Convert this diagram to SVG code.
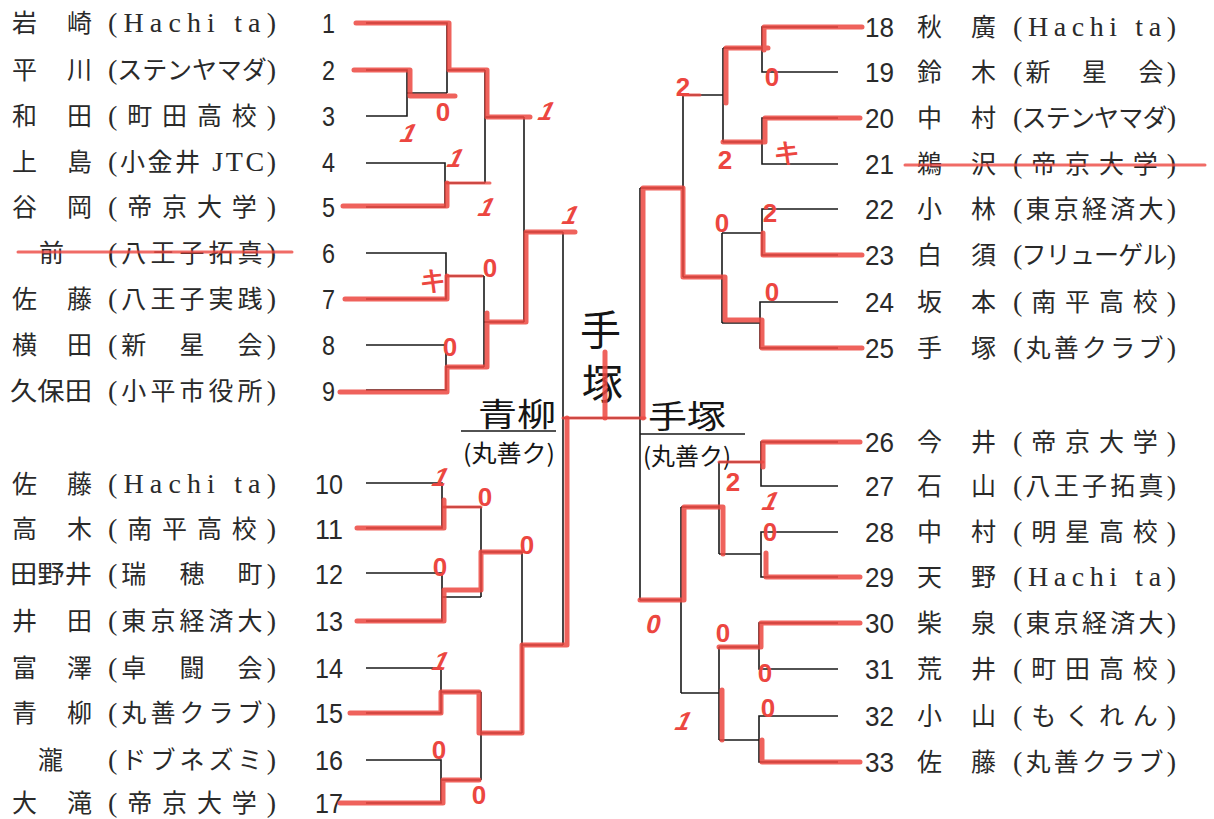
<svg xmlns="http://www.w3.org/2000/svg" width="1214" height="819" viewBox="0 0 1214 819">
<style>
.bg{fill:#ffffff}
.b{stroke:#1a1a1a;stroke-width:1.6;fill:none}
.r{stroke:#ec4640;stroke-width:5;fill:none;stroke-linecap:round;stroke-linejoin:round;opacity:.85}
.rt{stroke:#ec4640;stroke-width:3;fill:none;stroke-linecap:round;opacity:.8}
.n{font-family:"Noto Sans CJK JP","Noto Sans CJK SC",sans-serif;font-size:25px;fill:#2a2a2a}
.lat{font-family:"Liberation Serif",serif;font-size:28px}
.num{font-family:"Liberation Sans",Arial,sans-serif;font-size:28px;fill:#2a2a2a}
.hw{font-family:"Noto Sans CJK JP",sans-serif;fill:#151515}
.sc{font-family:"Liberation Sans",Arial,sans-serif;font-size:26px;font-weight:bold;fill:#ec4640;text-anchor:middle}
</style>
<rect class="bg" x="0" y="0" width="1214" height="819"/>

<!-- left entries -->
<g id="e1"><text class="num" x="322" y="33" textLength="13" lengthAdjust="spacingAndGlyphs">1</text><text class="n" x="12" y="32">岩</text><text class="n" x="67" y="32">崎</text><text class="n" x="108" y="32" textLength="168" lengthAdjust="spacing"><tspan class="lat">(Hachi ta)</tspan></text></g>
<g id="e2"><text class="num" x="322" y="80" textLength="13" lengthAdjust="spacingAndGlyphs">2</text><text class="n" x="12" y="79">平</text><text class="n" x="67" y="79">川</text><text class="n" x="108" y="79" textLength="168" lengthAdjust="spacing"><tspan class="lat">(</tspan>ステンヤマダ<tspan class="lat">)</tspan></text></g>
<g id="e3"><text class="num" x="322" y="126" textLength="13" lengthAdjust="spacingAndGlyphs">3</text><text class="n" x="12" y="125">和</text><text class="n" x="67" y="125">田</text><text class="n" x="108" y="125" textLength="168" lengthAdjust="spacing"><tspan class="lat">(</tspan>町田高校<tspan class="lat">)</tspan></text></g>
<g id="e4"><text class="num" x="322" y="172" textLength="13" lengthAdjust="spacingAndGlyphs">4</text><text class="n" x="12" y="171">上</text><text class="n" x="67" y="171">島</text><text class="n" x="108" y="171" textLength="168" lengthAdjust="spacing"><tspan class="lat">(</tspan>小金井<tspan class="lat"> JTC)</tspan></text></g>
<g id="e5"><text class="num" x="322" y="217" textLength="13" lengthAdjust="spacingAndGlyphs">5</text><text class="n" x="12" y="216">谷</text><text class="n" x="67" y="216">岡</text><text class="n" x="108" y="216" textLength="168" lengthAdjust="spacing"><tspan class="lat">(</tspan>帝京大学<tspan class="lat">)</tspan></text></g>
<g id="e6"><text class="num" x="322" y="263" textLength="13" lengthAdjust="spacingAndGlyphs">6</text><text class="n" x="39" y="262">前</text><text class="n" x="108" y="262" textLength="168" lengthAdjust="spacing"><tspan class="lat">(</tspan>八王子拓真<tspan class="lat">)</tspan></text></g>
<g id="e7"><text class="num" x="322" y="309" textLength="13" lengthAdjust="spacingAndGlyphs">7</text><text class="n" x="12" y="308">佐</text><text class="n" x="67" y="308">藤</text><text class="n" x="108" y="308" textLength="168" lengthAdjust="spacing"><tspan class="lat">(</tspan>八王子実践<tspan class="lat">)</tspan></text></g>
<g id="e8"><text class="num" x="322" y="355" textLength="13" lengthAdjust="spacingAndGlyphs">8</text><text class="n" x="12" y="354">横</text><text class="n" x="67" y="354">田</text><text class="n" x="108" y="354" textLength="168" lengthAdjust="spacing"><tspan class="lat">(</tspan>新　星　会<tspan class="lat">)</tspan></text></g>
<g id="e9"><text class="num" x="322" y="401" textLength="13" lengthAdjust="spacingAndGlyphs">9</text><text class="n" x="10" y="400" textLength="82" lengthAdjust="spacingAndGlyphs">久保田</text><text class="n" x="108" y="400" textLength="168" lengthAdjust="spacing"><tspan class="lat">(</tspan>小平市役所<tspan class="lat">)</tspan></text></g>
<g id="e10"><text class="num" x="315" y="494" textLength="28" lengthAdjust="spacingAndGlyphs">10</text><text class="n" x="12" y="493">佐</text><text class="n" x="67" y="493">藤</text><text class="n" x="108" y="493" textLength="168" lengthAdjust="spacing"><tspan class="lat">(Hachi ta)</tspan></text></g>
<g id="e11"><text class="num" x="315" y="539" textLength="28" lengthAdjust="spacingAndGlyphs">11</text><text class="n" x="12" y="538">高</text><text class="n" x="67" y="538">木</text><text class="n" x="108" y="538" textLength="168" lengthAdjust="spacing"><tspan class="lat">(</tspan>南平高校<tspan class="lat">)</tspan></text></g>
<g id="e12"><text class="num" x="315" y="584" textLength="28" lengthAdjust="spacingAndGlyphs">12</text><text class="n" x="10" y="583" textLength="82" lengthAdjust="spacingAndGlyphs">田野井</text><text class="n" x="108" y="583" textLength="168" lengthAdjust="spacing"><tspan class="lat">(</tspan>瑞　穂　町<tspan class="lat">)</tspan></text></g>
<g id="e13"><text class="num" x="315" y="631" textLength="28" lengthAdjust="spacingAndGlyphs">13</text><text class="n" x="12" y="630">井</text><text class="n" x="67" y="630">田</text><text class="n" x="108" y="630" textLength="168" lengthAdjust="spacing"><tspan class="lat">(</tspan>東京経済大<tspan class="lat">)</tspan></text></g>
<g id="e14"><text class="num" x="315" y="678" textLength="28" lengthAdjust="spacingAndGlyphs">14</text><text class="n" x="12" y="677">富</text><text class="n" x="67" y="677">澤</text><text class="n" x="108" y="677" textLength="168" lengthAdjust="spacing"><tspan class="lat">(</tspan>卓　闘　会<tspan class="lat">)</tspan></text></g>
<g id="e15"><text class="num" x="315" y="723" textLength="28" lengthAdjust="spacingAndGlyphs">15</text><text class="n" x="12" y="722">青</text><text class="n" x="67" y="722">柳</text><text class="n" x="108" y="722" textLength="168" lengthAdjust="spacing"><tspan class="lat">(</tspan>丸善クラブ<tspan class="lat">)</tspan></text></g>
<g id="e16"><text class="num" x="315" y="770" textLength="28" lengthAdjust="spacingAndGlyphs">16</text><text class="n" x="38" y="769">瀧</text><text class="n" x="108" y="769" textLength="168" lengthAdjust="spacing"><tspan class="lat">(</tspan>ドブネズミ<tspan class="lat">)</tspan></text></g>
<g id="e17"><text class="num" x="315" y="813" textLength="28" lengthAdjust="spacingAndGlyphs">17</text><text class="n" x="12" y="812">大</text><text class="n" x="67" y="812">滝</text><text class="n" x="108" y="812" textLength="168" lengthAdjust="spacing"><tspan class="lat">(</tspan>帝京大学<tspan class="lat">)</tspan></text></g>

<!-- right entries -->
<g id="e18"><text class="num" x="865" y="37" textLength="29" lengthAdjust="spacingAndGlyphs">18</text><text class="n" x="917" y="36">秋</text><text class="n" x="971" y="36">廣</text><text class="n" x="1013" y="36" textLength="163" lengthAdjust="spacing"><tspan class="lat">(Hachi ta)</tspan></text></g>
<g id="e19"><text class="num" x="865" y="82" textLength="29" lengthAdjust="spacingAndGlyphs">19</text><text class="n" x="917" y="81">鈴</text><text class="n" x="971" y="81">木</text><text class="n" x="1013" y="81" textLength="163" lengthAdjust="spacing"><tspan class="lat">(</tspan>新　星　会<tspan class="lat">)</tspan></text></g>
<g id="e20"><text class="num" x="865" y="128" textLength="29" lengthAdjust="spacingAndGlyphs">20</text><text class="n" x="917" y="127">中</text><text class="n" x="971" y="127">村</text><text class="n" x="1013" y="127" textLength="163" lengthAdjust="spacing"><tspan class="lat">(</tspan>ステンヤマダ<tspan class="lat">)</tspan></text></g>
<g id="e21"><text class="num" x="865" y="174" textLength="29" lengthAdjust="spacingAndGlyphs">21</text><text class="n" x="917" y="173">鵜</text><text class="n" x="971" y="173">沢</text><text class="n" x="1013" y="173" textLength="163" lengthAdjust="spacing"><tspan class="lat">(</tspan>帝京大学<tspan class="lat">)</tspan></text></g>
<g id="e22"><text class="num" x="865" y="219" textLength="29" lengthAdjust="spacingAndGlyphs">22</text><text class="n" x="917" y="218">小</text><text class="n" x="971" y="218">林</text><text class="n" x="1013" y="218" textLength="163" lengthAdjust="spacing"><tspan class="lat">(</tspan>東京経済大<tspan class="lat">)</tspan></text></g>
<g id="e23"><text class="num" x="865" y="265" textLength="29" lengthAdjust="spacingAndGlyphs">23</text><text class="n" x="917" y="264">白</text><text class="n" x="971" y="264">須</text><text class="n" x="1013" y="264" textLength="163" lengthAdjust="spacing"><tspan class="lat">(</tspan>フリューゲル<tspan class="lat">)</tspan></text></g>
<g id="e24"><text class="num" x="865" y="312" textLength="29" lengthAdjust="spacingAndGlyphs">24</text><text class="n" x="917" y="311">坂</text><text class="n" x="971" y="311">本</text><text class="n" x="1013" y="311" textLength="163" lengthAdjust="spacing"><tspan class="lat">(</tspan>南平高校<tspan class="lat">)</tspan></text></g>
<g id="e25"><text class="num" x="865" y="358" textLength="29" lengthAdjust="spacingAndGlyphs">25</text><text class="n" x="917" y="357">手</text><text class="n" x="971" y="357">塚</text><text class="n" x="1013" y="357" textLength="163" lengthAdjust="spacing"><tspan class="lat">(</tspan>丸善クラブ<tspan class="lat">)</tspan></text></g>
<g id="e26"><text class="num" x="865" y="452" textLength="29" lengthAdjust="spacingAndGlyphs">26</text><text class="n" x="917" y="451">今</text><text class="n" x="971" y="451">井</text><text class="n" x="1013" y="451" textLength="163" lengthAdjust="spacing"><tspan class="lat">(</tspan>帝京大学<tspan class="lat">)</tspan></text></g>
<g id="e27"><text class="num" x="865" y="496" textLength="29" lengthAdjust="spacingAndGlyphs">27</text><text class="n" x="917" y="495">石</text><text class="n" x="971" y="495">山</text><text class="n" x="1013" y="495" textLength="163" lengthAdjust="spacing"><tspan class="lat">(</tspan>八王子拓真<tspan class="lat">)</tspan></text></g>
<g id="e28"><text class="num" x="865" y="542" textLength="29" lengthAdjust="spacingAndGlyphs">28</text><text class="n" x="917" y="541">中</text><text class="n" x="971" y="541">村</text><text class="n" x="1013" y="541" textLength="163" lengthAdjust="spacing"><tspan class="lat">(</tspan>明星高校<tspan class="lat">)</tspan></text></g>
<g id="e29"><text class="num" x="865" y="587" textLength="29" lengthAdjust="spacingAndGlyphs">29</text><text class="n" x="917" y="586">天</text><text class="n" x="971" y="586">野</text><text class="n" x="1013" y="586" textLength="163" lengthAdjust="spacing"><tspan class="lat">(Hachi ta)</tspan></text></g>
<g id="e30"><text class="num" x="865" y="633" textLength="29" lengthAdjust="spacingAndGlyphs">30</text><text class="n" x="917" y="632">柴</text><text class="n" x="971" y="632">泉</text><text class="n" x="1013" y="632" textLength="163" lengthAdjust="spacing"><tspan class="lat">(</tspan>東京経済大<tspan class="lat">)</tspan></text></g>
<g id="e31"><text class="num" x="865" y="679" textLength="29" lengthAdjust="spacingAndGlyphs">31</text><text class="n" x="917" y="678">荒</text><text class="n" x="971" y="678">井</text><text class="n" x="1013" y="678" textLength="163" lengthAdjust="spacing"><tspan class="lat">(</tspan>町田高校<tspan class="lat">)</tspan></text></g>
<g id="e32"><text class="num" x="865" y="726" textLength="29" lengthAdjust="spacingAndGlyphs">32</text><text class="n" x="917" y="725">小</text><text class="n" x="971" y="725">山</text><text class="n" x="1013" y="725" textLength="163" lengthAdjust="spacing"><tspan class="lat">(</tspan>もくれん<tspan class="lat">)</tspan></text></g>
<g id="e33"><text class="num" x="865" y="772" textLength="29" lengthAdjust="spacingAndGlyphs">33</text><text class="n" x="917" y="771">佐</text><text class="n" x="971" y="771">藤</text><text class="n" x="1013" y="771" textLength="163" lengthAdjust="spacing"><tspan class="lat">(</tspan>丸善クラブ<tspan class="lat">)</tspan></text></g>

<!-- connectors -->
<g id="connectors">
<path class="b" d="M366 23H447V93M366 70H407V116H366M407 93H447M447 70H485"/>
<path class="b" d="M366 163H445V207H366M445 183H485M485 70V183M485 117H524"/>
<path class="b" d="M366 253H446V299H366M446 276H484M366 345H446V390H366M446 367H484M484 276V367M484 322H524"/>
<path class="b" d="M524 117V322M524 232H563M563 232V645"/>
<path class="b" d="M366 483H442V528H366M442 507H481M366 573H442V621H366M442 597H481M481 507V597M481 552H522"/>
<path class="b" d="M366 668H441V713H366M441 692H481M366 760H441V803H366M441 780H481M481 692V780M481 733H522M522 552V733M522 645H563"/>
<path class="b" d="M563 418H640M640 188V600"/>
<path class="b" d="M838 27H762V72H838M762 48H723M838 118H762V164H838M762 142H723M723 48V142M723 95H683"/>
<path class="b" d="M838 209H762V255H838M762 233H722M838 302H760V348H838M760 323H722M722 233V323M722 277H683M683 95V277M683 188H640"/>
<path class="b" d="M838 442H761V486H838M761 462H719M838 532H761V577H838M761 554H719M719 462V554M719 507H681"/>
<path class="b" d="M838 623H759V669H838M759 647H719M838 716H759V762H838M759 740H719M719 647V740M719 693H681M681 507V693M681 600H640"/>
</g>

<!-- handwritten result -->
<g id="winner">
<path class="b" d="M461 431H556M640 434H745"/>
<text class="hw" x="478" y="426" font-size="32" textLength="78" lengthAdjust="spacingAndGlyphs">青柳</text>
<text class="hw" x="463" y="462" font-size="24" textLength="92" lengthAdjust="spacingAndGlyphs">(丸善ク)</text>
<text class="hw" x="580" y="345" font-size="41">手</text>
<text class="hw" x="582" y="399" font-size="41">塚</text>
<text class="hw" x="648" y="428" font-size="32" textLength="78" lengthAdjust="spacingAndGlyphs">手塚</text>
<text class="hw" x="643" y="465" font-size="24" textLength="88" lengthAdjust="spacingAndGlyphs">(丸善ク)</text>
</g>

<!-- red markup -->
<g id="markup">
<path class="rt" d="M18 252H292M905 165H1205"/>
<path class="r" d="M356 23H449V70H487V117H530"/>
<path class="r" d="M354 70H410V96H455"/>
<path class="r" d="M343 206H447V183"/>
<path class="rt" d="M447 183H490"/>
<path class="r" d="M345 299H447V276"/>
<path class="rt" d="M447 276H482"/>
<path class="r" d="M340 392H447V367H487V313M487 322H526V232H575"/>
<path class="r" d="M357 528H444V500"/>
<path class="rt" d="M444 507H481"/>
<path class="r" d="M357 621H444V590H481V552H521"/>
<path class="r" d="M350 713H441V692H479V733H522V645H567V418"/>
<path class="r" d="M340 803H443V780H479"/>
<path class="r" d="M862 27H764V50M768 48H726V103"/>
<path class="r" d="M860 118H765V142H723"/>
<path class="r" d="M862 255H763V233"/>
<path class="r" d="M862 348H762V320H725V277H683V188H643V418"/>
<path class="rt" d="M683 95H700"/>
<path class="r" d="M860 442H763V467"/>
<path class="rt" d="M763 462H719"/>
<path class="r" d="M860 577H766V553"/>
<path class="r" d="M723 554V507H684V600H640"/>
<path class="r" d="M860 623H761V647H719"/>
<path class="r" d="M860 762H762V740"/>
<path class="r" d="M722 740V690"/>
<path class="r" d="M605 352V418"/>
<path class="rt" d="M563 418H645"/>
<text class="sc" transform="translate(543 120) skewX(-25)">1</text>
<text class="sc" x="443" y="121" font-size="20">0</text>
<text class="sc" transform="translate(405 142) skewX(-25)">1</text>
<text class="sc" transform="translate(452 167) skewX(-25)">1</text>
<text class="sc" transform="translate(483 216) skewX(-25)">1</text>
<text class="sc" transform="translate(567 224) skewX(-25)">1</text>
<text class="sc" x="433" y="289">キ</text>
<text class="sc" x="490" y="277">0</text>
<text class="sc" x="450" y="356">0</text>
<text class="sc" transform="translate(437 486) skewX(-25)">1</text>
<text class="sc" x="485" y="506">0</text>
<text class="sc" x="527" y="554">0</text>
<text class="sc" x="440" y="576">0</text>
<text class="sc" transform="translate(437 670) skewX(-25)">1</text>
<text class="sc" x="439" y="759">0</text>
<text class="sc" x="479" y="804">0</text>
<text class="sc" x="683" y="96">2</text>
<text class="sc" x="772" y="86" font-size="22">0</text>
<text class="sc" x="725" y="169">2</text>
<text class="sc" x="787" y="161">キ</text>
<text class="sc" x="722" y="232" font-size="22">0</text>
<text class="sc" x="770" y="222" font-size="22">2</text>
<text class="sc" x="772" y="301" font-size="22">0</text>
<text class="sc" x="733" y="491">2</text>
<text class="sc" transform="translate(767 510) skewX(-25)">1</text>
<text class="sc" x="770" y="541">0</text>
<text class="sc" transform="translate(652 633) skewX(-12)" font-size="30">0</text>
<text class="sc" x="723" y="642">0</text>
<text class="sc" x="765" y="682">0</text>
<text class="sc" x="768" y="717">0</text>
<text class="sc" transform="translate(680 730) skewX(-25)">1</text>
</g>
</svg>
